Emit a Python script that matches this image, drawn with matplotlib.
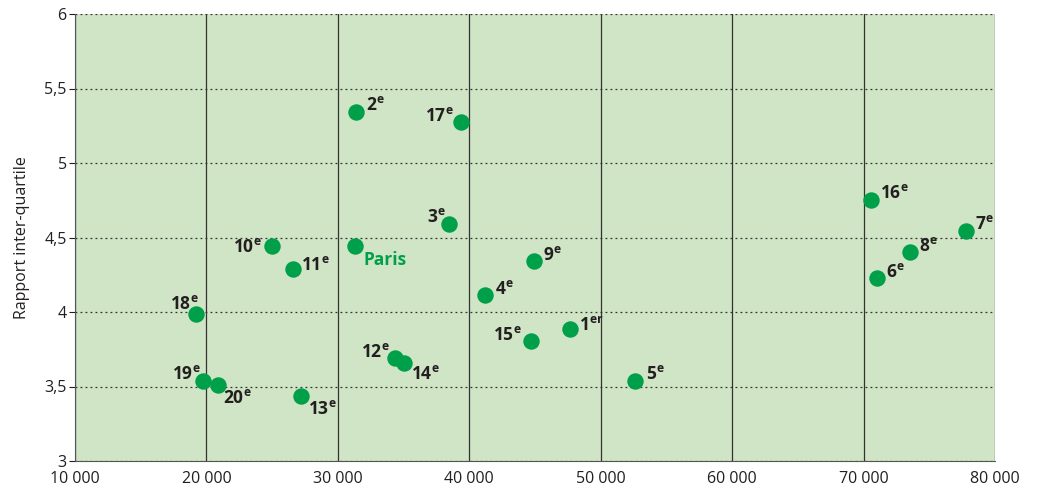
import matplotlib
matplotlib.use("Agg")
import matplotlib.pyplot as plt

plt.rcParams['font.family'] = ['Open Sans', 'DejaVu Sans']
plt.rcParams['mathtext.fontset'] = 'custom'
plt.rcParams['mathtext.rm'] = 'Open Sans'
plt.rcParams['mathtext.bf'] = 'Open Sans:bold'

# Data: revenu (x) vs rapport inter-quartile (y) by arrondissement
names = ['1', '2', '3', '4', '5', '6', '7', '8', '9', '10',
         '11', '12', '13', '14', '15', '16', '17', '18', '19', '20']
revenu = [47640, 31370, 38440, 41180, 52590, 70990, 77760, 73500, 44900, 24980,
          26580, 34330, 27190, 35020, 44680, 70530, 39350, 19200, 19730, 20870]
rapport = [3.886, 5.342, 4.591, 4.114, 3.537, 4.228, 4.544, 4.403, 4.342, 4.443,
           4.289, 3.691, 3.436, 3.658, 3.805, 4.752, 5.275, 3.987, 3.537, 3.510]
paris_x, paris_y = 31290, 4.443

# label offsets in points
offsets = {'1': (7, 3), '2': (7, 5), '3': (-16, 5), '4': (7, 4), '5': (8, 5),
           '6': (7, 4), '7': (7, 5), '8': (7, 4), '9': (7, 4), '10': (-28, -1),
           '11': (6, 3), '12': (-24, 4), '13': (5, -9), '14': (5, -8), '15': (-27, 4),
           '16': (7, 5), '17': (-26, 4), '18': (-19, 7), '19': (-22, 5), '20': (4, -9)}

green = '#00a04a'
dark = '#231f20'

fig = plt.figure(figsize=(10.37, 4.93), dpi=100)
ax = fig.add_axes([75/1037, 32/493, 920/1037, 447/493])
ax.set_facecolor('#cfe5c5')

ax.scatter(revenu, rapport, s=140, color=green, zorder=3, linewidths=0)
ax.scatter([paris_x], [paris_y], s=140, color=green, zorder=3, linewidths=0)

for n, x, y in zip(names, revenu, rapport):
    sup = 'er' if n == '1' else 'e'
    ax.annotate(n + r'$^{\mathbf{' + sup + '}}$', (x, y), xytext=offsets[n],
                textcoords='offset points', fontsize=12.5, fontweight='bold',
                color=dark, va='center', ha='left')
ax.annotate('Paris', (paris_x, paris_y), xytext=(6, -10), textcoords='offset points',
            fontsize=12.5, fontweight='bold', color=green, va='center', ha='left')

ax.set_xlim(10000, 80000)
ax.set_ylim(3, 6)
xt = list(range(10000, 80001, 10000))
ax.set_xticks(xt)
ax.set_xticklabels([f'{v // 1000} 000' for v in xt])
yt = [3, 3.5, 4, 4.5, 5, 5.5, 6]
ax.set_yticks(yt)
ax.set_yticklabels([str(v).replace('.', ',').replace(',0', '') for v in yt])

ax.xaxis.grid(True, color='#333333', linewidth=0.9, linestyle='-')
ax.yaxis.grid(True, color='#333333', linewidth=0.9, linestyle=(0, (1.5, 2.5)))
ax.set_axisbelow(True)

for s in ['top', 'right']:
    ax.spines[s].set_visible(False)
for s in ['left', 'bottom']:
    ax.spines[s].set_color('#555555')
ax.tick_params(axis='x', length=0, labelsize=11.5, colors=dark, pad=7)
ax.tick_params(axis='y', length=4, labelsize=11.5, colors=dark, pad=2)

ax.set_ylabel('Rapport inter-quartile', fontsize=11.5, color=dark, labelpad=10)

fig.savefig('out.png', dpi=100)
